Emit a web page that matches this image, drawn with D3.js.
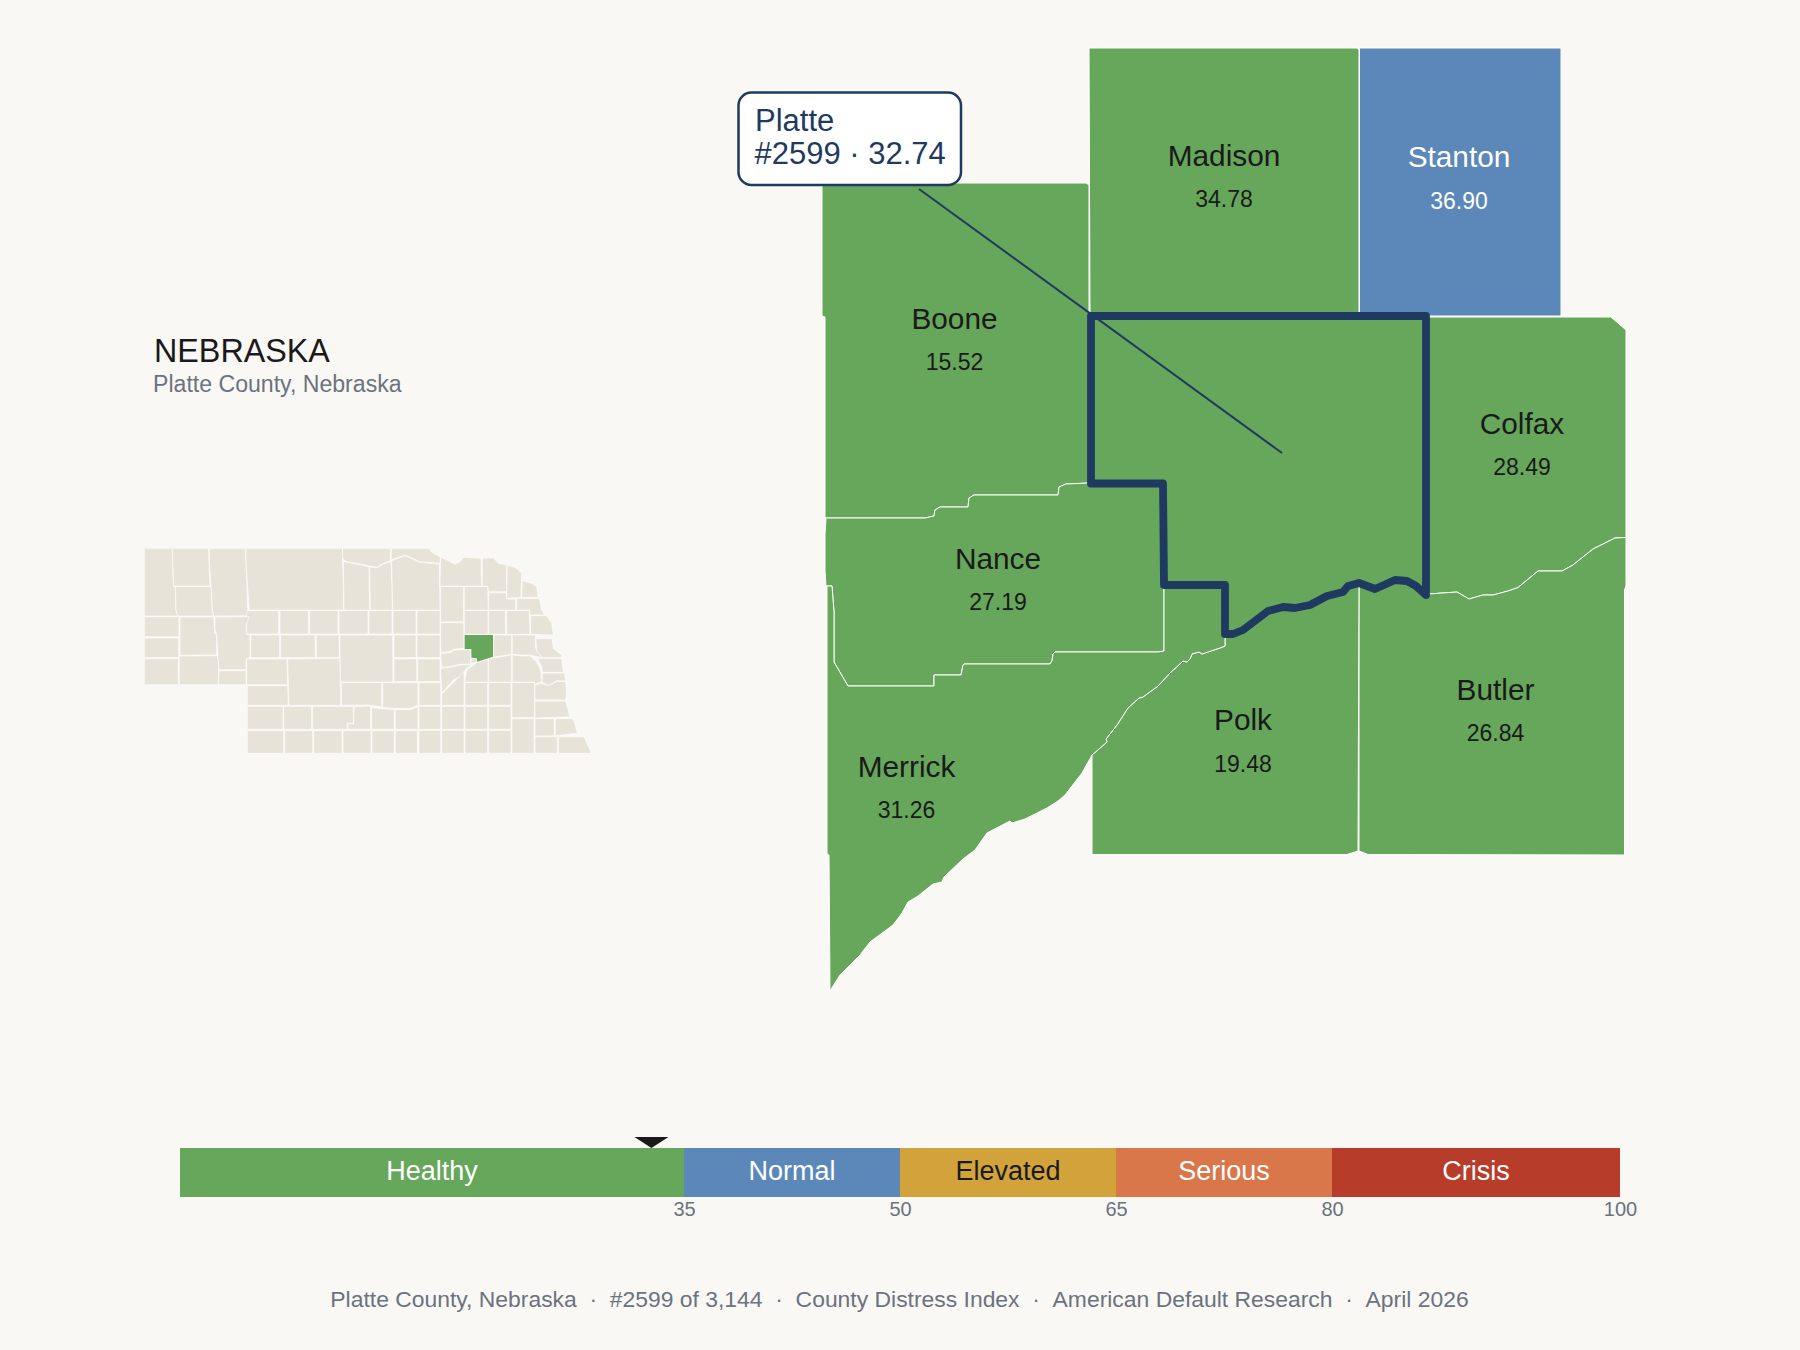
<!DOCTYPE html>
<html>
<head>
<meta charset="utf-8">
<script src="https://cdn.jsdelivr.net/npm/d3@7"></script>
<style>
  html, body { margin: 0; padding: 0; background: #faf8f4; }
  svg { display: block; font-family: "Liberation Sans", Arial, sans-serif; }
</style>
</head>
<body>
<svg id="chart" width="1800" height="1350"></svg>
<script>
// county scores
const countyNames = ['Madison', 'Stanton', 'Boone', 'Colfax', 'Nance', 'Butler', 'Polk', 'Merrick'];
const countyScores = [34.78, 36.90, 15.52, 28.49, 27.19, 26.84, 19.48, 31.26];
const focusName = 'Platte';
const focusRank = 2599;
const focusScore = 32.74;

// severity bands
const bandNames = ['Healthy', 'Normal', 'Elevated', 'Serious', 'Crisis'];
const bandEdges = [0, 35, 50, 65, 80, 100];
const bandTicks = [35, 50, 65, 80, 100];
const bandColors = ['#66a75b', '#5b88b8', '#d2a33b', '#d9764a', '#b73c2a'];

// shared county borders, map units
const booneNance = [[5,478],[105,478],[114,476],[115,470],[120,467],[148,467],[149,458],[154,455],[238,455],[239,447],[246,444],[269,443]];
const nanceSouth = [[28,646],[114,646],[114,635],[141,635],[143,625],[144,624],[230,624],[232,621],[233,614],[235,612],[338,612],[344,611],[344,545]];
const nanceWest = [[14,622],[14,572],[12,546]];
const platteNotch = [[271,443.5],[343,443.5],[344,545],[405,545],[405,594]];
const platteSouthA = [[405,594],[413,594],[423,590],[448,571],[463,567],[475,568],[490,565],[507,556],[523,552],[528,546],[539,543]];
const platteSouthB = [[539,543],[555,549],[575,540],[587,541],[596,546],[605,555]];
const colfaxSouth = [[608,554],[637,552],[649,559],[663,555],[673,555],[688,551],[698,547.5],[718,531],[742,531],[753,525],[773,509],[795,498],[806,497.5]];
const merrickSouth = [[10,951],[20,935],[30,925],[40,915],[50,902],[73,885],[82,873],[88,862],[98,856],[113,844],[122,842],[124,837],[143,819],[155,810],[167,793],[190,781],[192,783],[205,779],[227,768],[238,761],[245,755],[262,733],[272,715]];
const merrickPolk = [[272,715],[287,702],[286,699],[297,685],[308,668],[319,658],[323,657],[338,646],[350,633],[363,621],[367,622],[370,619],[372,614],[379,612],[382,614],[400,608],[405,606],[405,594]];

const rev = arc => arc.slice().reverse();

const countyRings = [
  [[269,8],[537,8],[539,10],[539,275],[270,275]],
  [[539.5,8],[741,8],[741,276],[539.5,276]],
  [[2,143],[266,143],[269,145],[269,443], ...rev(booneNance), [5,277],[2,276]],
  [[606,277],[791,277],[806,290], ...rev(colfaxSouth), [605,555]],
  [...booneNance, ...platteNotch.slice(0, 3), [344,611], ...rev(nanceSouth).slice(2), ...nanceWest, [6,546],[5,531],[5,494],[6,479]],
  [...platteSouthB, ...colfaxSouth, [806,546],[804.5,550],[804.5,815],[548,814.5],[539,811]],
  [[272,715],[272,814.5],[527,814.5],[538,811], ...rev(platteSouthA), ...rev(merrickPolk).slice(1)],
  [[7,546],[7,814],[9,815], ...merrickSouth, ...merrickPolk.slice(1), [405,545],[344,545], ...rev(nanceSouth).slice(1), ...nanceWest]
];
const platteRing = [[271,276],[606,276],[606,555], ...rev(platteSouthB).slice(1), ...rev(platteSouthA).slice(1), ...rev(platteNotch).slice(1)];

// name anchors, map units
const labelU = [404, 639, 134.5, 702, 178, 675.5, 423, 86.5];
const labelV = [125.5, 127, 288.5, 393.5, 528.5, 659.5, 690, 736.5];
// leader runs from the callout to the county middle
const leaderU = [99, 462];
const leaderV = [149, 413];

// state inset, every county, inset units
const insetRings = [
  [[73,85],[157,85],[158,125],[161,200],[166,200],[168,270],[173,288],[73,288]],
  [[157,85],[266,85],[267,127],[270,198],[161,198],[158,125]],
  [[268,85],[376,85],[378,128],[381,200],[383,270],[387,287],[281,288],[277,270],[273,198],[268,127]],
  [[166,200],[273,200],[276,270],[281,288],[173,288],[168,270]],
  [[378,85],[667,85],[670,200],[671,270],[388,270],[383,200],[378,128]],
  [[668,85],[811,85],[811,122],[790,130],[770,142],[720,132],[680,125],[668,117]],
  [[814,85],[928,85],[935,97],[960,110],[960,130],[900,125],[855,105],[814,120]],
  [[670,125],[680,127],[720,134],[747,140],[749,270],[672,270]],
  [[749,140],[770,144],[790,132],[813,125],[816,200],[817,270],[751,270]],
  [[815,122],[855,107],[900,127],[958,132],[960,270],[818,270]],
  [[962,110],[985,122],[1005,133],[1020,125],[1030,112],[1083,115],[1085,198],[960,198]],
  [[1087,115],[1120,113],[1135,130],[1160,135],[1160,215],[1105,215],[1103,198],[1087,198]],
  [[1162,135],[1190,145],[1205,160],[1203,232],[1160,235]],
  [[1207,182],[1235,190],[1250,200],[1255,232],[1205,232]],
  [[962,200],[1030,200],[1031,305],[962,306]],
  [[1033,200],[1103,200],[1105,270],[1033,270]],
  [[1106,218],[1158,218],[1160,237],[1187,237],[1187,270],[1106,270]],
  [[1190,235],[1258,235],[1265,270],[1275,285],[1230,285],[1228,270],[1190,270]],
  [[1033,272],[1104,272],[1104,343],[1033,343]],
  [[1106,272],[1156,272],[1157,343],[1106,343]],
  [[1160,272],[1228,272],[1230,343],[1160,343]],
  [[1232,287],[1280,287],[1295,310],[1300,345],[1232,343]],
  [[962,308],[1031,308],[1032,385],[1000,388],[990,395],[962,398]],
  [[1121,345],[1175,345],[1175,403],[1145,408],[1121,411]],
  [[1177,345],[1246,345],[1247,385],[1265,405],[1265,413],[1230,405],[1205,406],[1177,402]],
  [[1248,356],[1296,356],[1300,385],[1325,405],[1325,413],[1268,413],[1250,395]],
  [[962,400],[990,398],[1000,391],[1052,388],[1052,432],[1020,433],[990,440],[965,442]],
  [[962,444],[990,442],[1020,435],[1052,434],[1070,427],[1040,445],[1020,470],[1000,480],[965,520]],
  [[1054,415],[1070,417],[1071,425],[1052,432]],
  [[1072,427],[1104,418],[1104,486],[1034,486],[1040,450]],
  [[1106,416],[1145,410],[1174,404],[1174,486],[1106,486]],
  [[1177,405],[1205,408],[1230,408],[1250,425],[1262,450],[1265,485],[1245,493],[1243,486],[1177,486]],
  [[1253,415],[1325,415],[1330,457],[1268,457],[1265,440]],
  [[1268,459],[1333,459],[1337,483],[1310,482],[1285,497],[1265,485]],
  [[1265,490],[1285,497],[1310,484],[1337,485],[1340,515],[1337,540],[1245,540],[1245,495]],
  [[1245,543],[1337,543],[1350,590],[1245,594]],
  [[1306,596],[1360,596],[1372,640],[1306,647]],
  [[1245,596],[1303,596],[1303,647],[1245,648]],
  [[1245,650],[1312,650],[1312,700],[1245,700]],
  [[1315,650],[1392,650],[1405,680],[1415,700],[1315,700]],
  [[1176,596],[1242,596],[1242,700],[1176,700]],
  [[1176,488],[1243,488],[1243,593],[1176,593]],
  [[1106,488],[1173,488],[1173,556],[1106,556]],
  [[1035,488],[1103,488],[1103,556],[1035,556]],
  [[965,523],[1032,455],[1032,556],[965,556]],
  [[1106,559],[1173,559],[1173,628],[1106,628]],
  [[1106,631],[1173,631],[1173,700],[1106,700]],
  [[1035,559],[1103,559],[1103,628],[1035,628]],
  [[1035,631],[1103,631],[1103,700],[1035,700]],
  [[965,559],[1032,559],[1032,628],[965,628]],
  [[965,631],[1032,631],[1032,700],[965,700]],
  [[897,559],[962,559],[962,628],[897,628]],
  [[897,631],[962,631],[962,700],[897,700]],
  [[897,488],[962,488],[962,556],[897,556]],
  [[788,488],[894,488],[894,556],[870,565],[820,565],[788,563]],
  [[664,488],[785,488],[785,561],[745,555],[664,556]],
  [[826,569],[870,569],[894,560],[894,628],[826,628]],
  [[755,563],[785,566],[823,568],[823,628],[755,628]],
  [[703,560],[745,558],[752,562],[752,628],[684,628],[684,612],[700,612]],
  [[578,559],[700,559],[700,610],[682,610],[682,628],[578,628]],
  [[491,559],[575,559],[575,628],[491,628]],
  [[382,559],[489,559],[489,628],[382,628]],
  [[382,632],[491,632],[491,700],[382,700]],
  [[494,632],[578,632],[578,700],[494,700]],
  [[581,632],[666,632],[666,700],[581,700]],
  [[669,632],[753,632],[753,700],[669,700]],
  [[756,632],[823,632],[823,700],[756,700]],
  [[826,632],[892,632],[892,700],[826,700]],
  [[382,497],[503,497],[505,556],[382,556]],
  [[380,417],[501,417],[503,494],[380,494]],
  [[503,417],[660,415],[662,556],[507,556],[505,487]],
  [[392,345],[479,345],[479,413],[392,413]],
  [[482,345],[585,345],[586,413],[482,413]],
  [[589,345],[657,345],[658,413],[589,413]],
  [[380,272],[476,272],[476,342],[380,342]],
  [[480,272],[565,272],[566,342],[480,342]],
  [[569,272],[654,272],[654,342],[569,342]],
  [[657,272],[744,272],[744,342],[657,342]],
  [[747,272],[816,272],[816,342],[747,342]],
  [[819,272],[888,272],[888,342],[819,342]],
  [[891,272],[960,272],[960,342],[891,342]],
  [[660,345],[818,345],[819,486],[662,486],[660,415]],
  [[822,345],[888,345],[888,413],[822,413]],
  [[891,345],[960,345],[960,413],[891,413]],
  [[822,417],[890,417],[890,485],[822,485]],
  [[893,417],[960,417],[960,485],[893,485]],
  [[73,290],[177,290],[177,350],[73,350]],
  [[73,354],[176,354],[176,413],[73,413]],
  [[73,416],[175,416],[175,494],[73,494]],
  [[180,291],[281,291],[284,340],[290,345],[290,405],[180,406]],
  [[178,408],[290,407],[296,420],[295,490],[292,494],[178,494]],
  [[297,452],[378,452],[378,494],[295,494]],
  [[285,291],[388,290],[378,315],[380,343],[390,345],[390,413],[378,416],[378,449],[297,449],[294,410],[290,343],[285,330]]
];
const insetPlatte = [[1034,345],[1119,345],[1119,410],[1072,425],[1070,415],[1054,413],[1054,387],[1034,387]];

// text
const stateTitle = 'NEBRASKA';
const countyTitle = 'Platte County, Nebraska';
const footerParts = ['Platte County, Nebraska', '#2599 of 3,144', 'County Distress Index', 'American Default Research', 'April 2026'];

const ink = '#1a1a1a';
const navy = '#1f3a60';
const gray = '#6b7280';
const tan = '#e8e3d8';

const svg = d3.select('#chart');

const mapX = d3.scaleLinear().domain([0, 800]).range([820, 1620]);
const mapY = d3.scaleLinear().domain([0, 950]).range([40, 990]);
const insetX = d3.scaleLinear().domain([0, 1500]).range([120, 620]);
const insetY = d3.scaleLinear().domain([0, 750]).range([520, 770]);
const bandX = d3.scaleLinear().domain([0, 100]).range([180, 1620]);
const scoreColor = d3.scaleThreshold().domain(bandEdges.slice(1, -1)).range(bandColors);

const mapLine = d3.line().x(d => mapX(d[0])).y(d => mapY(d[1]));
const insetLine = d3.line().x(d => insetX(d[0])).y(d => insetY(d[1]));

// inset
const inset = svg.append('g');
inset.selectAll('path.county')
    .data(insetRings)
    .enter().append('path')
        .attr('class', 'county')
        .attr('d', d => insetLine(d) + 'Z')
        .attr('fill', tan)
        .attr('stroke', '#ffffff')
        .attr('stroke-width', 0.6);
inset.append('path')
    .attr('d', insetLine(insetPlatte) + 'Z')
    .attr('fill', scoreColor(focusScore));

// heading
svg.append('text')
    .attr('x', 154)
    .attr('y', 361.5)
    .attr('font-size', 32.3)
    .attr('fill', ink)
    .text(stateTitle);
svg.append('text')
    .attr('x', 153)
    .attr('y', 391.5)
    .attr('font-size', 23.1)
    .attr('fill', gray)
    .text(countyTitle);

// neighbours
const counties = countyNames.map((name, i) => ({
    name: name, score: countyScores[i], ring: countyRings[i], u: labelU[i], v: labelV[i]
}));

svg.append('g').selectAll('path')
    .data(counties)
    .enter().append('path')
        .attr('d', d => mapLine(d.ring) + 'Z')
        .attr('fill', d => scoreColor(d.score))
        .attr('stroke', '#ffffff')
        .attr('stroke-width', 1)
        .attr('stroke-linejoin', 'round');

// the focus county
svg.append('path')
    .attr('d', mapLine(platteRing) + 'Z')
    .attr('fill', scoreColor(focusScore))
    .attr('stroke', navy)
    .attr('stroke-width', 7.8)
    .attr('stroke-linejoin', 'round');

const labels = svg.append('g').selectAll('g')
    .data(counties)
    .enter().append('g')
        .attr('transform', d => 'translate(' + mapX(d.u) + ',' + mapY(d.v) + ')')
        .attr('text-anchor', 'middle')
        .attr('fill', d => d.score >= 35 ? '#ffffff' : ink);
labels.append('text')
    .attr('font-size', 29.8)
    .text(d => d.name);
labels.append('text')
    .attr('y', 41.5)
    .attr('font-size', 23)
    .text(d => d.score.toFixed(2));

// callout
svg.append('line')
    .attr('x1', mapX(leaderU[0]))
    .attr('y1', mapY(leaderV[0]))
    .attr('x2', mapX(leaderU[1]))
    .attr('y2', mapY(leaderV[1]))
    .attr('stroke', navy)
    .attr('stroke-width', 2);
svg.append('rect')
    .attr('x', 738.5)
    .attr('y', 92.5)
    .attr('width', 222.5)
    .attr('height', 92.5)
    .attr('rx', 13)
    .attr('fill', '#ffffff')
    .attr('stroke', navy)
    .attr('stroke-width', 2.5);
svg.append('text')
    .attr('x', 755)
    .attr('y', 130.5)
    .attr('font-size', 31)
    .attr('fill', navy)
    .text(focusName);
svg.append('text')
    .attr('x', 754.5)
    .attr('y', 164)
    .attr('font-size', 31)
    .attr('fill', navy)
    .text('#' + focusRank + ' \u00b7 ' + focusScore.toFixed(2));

// severity scale
const bands = bandNames.map((name, i) => ({ name: name, lo: bandEdges[i], hi: bandEdges[i + 1], color: bandColors[i] }));
const barTop = 1148;
const barHeight = 49;

svg.append('g').selectAll('rect')
    .data(bands)
    .enter().append('rect')
        .attr('x', d => bandX(d.lo))
        .attr('y', barTop)
        .attr('width', d => bandX(d.hi) - bandX(d.lo))
        .attr('height', barHeight)
        .attr('fill', d => d.color);

svg.append('g').selectAll('text')
    .data(bands)
    .enter().append('text')
        .attr('x', d => (bandX(d.lo) + bandX(d.hi)) / 2)
        .attr('y', barTop + 32)
        .attr('text-anchor', 'middle')
        .attr('font-size', 27)
        .attr('fill', d => d.name === 'Elevated' ? ink : '#ffffff')
        .text(d => d.name);

const axis = svg.append('g')
    .attr('transform', 'translate(0,' + (barTop + barHeight) + ')')
    .call(d3.axisBottom(bandX).tickValues(bandTicks).tickSize(0).tickPadding(4.4));
axis.select('.domain').remove();
axis.selectAll('text')
    .attr('font-size', 20)
    .attr('font-family', '"Liberation Sans", Arial, sans-serif')
    .attr('fill', gray);

// marker for the focus score
svg.append('path')
    .attr('d', d3.line()([[bandX(focusScore) - 17, barTop - 11], [bandX(focusScore) + 17, barTop - 11], [bandX(focusScore), barTop]]) + 'Z')
    .attr('fill', ink);

// footer
svg.append('text')
    .attr('x', 899.5)
    .attr('y', 1307)
    .attr('text-anchor', 'middle')
    .attr('font-size', 22.9)
    .attr('fill', gray)
    .style('white-space', 'pre')
    .text(footerParts.join('\u00a0\u00a0\u00b7\u00a0\u00a0'));
</script>
</body>
</html>
